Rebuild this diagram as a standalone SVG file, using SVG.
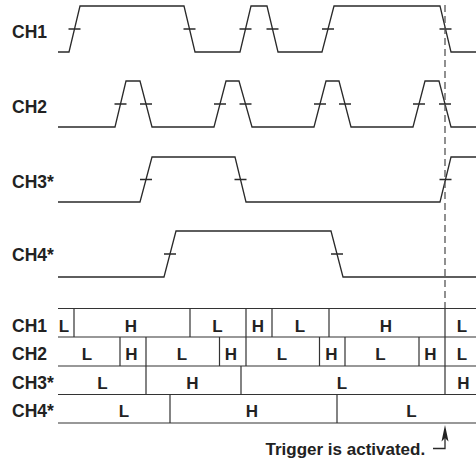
<svg xmlns="http://www.w3.org/2000/svg" width="476" height="459" viewBox="0 0 476 459">
<style>
.w{fill:none;stroke:#2a2a2a;stroke-width:1.3;stroke-linejoin:miter}
.t{stroke:#2a2a2a;stroke-width:1.3;fill:none}
.g{stroke:#333;stroke-width:1.2;fill:none}
.lbl{font-family:"Liberation Sans",Arial,Helvetica,sans-serif;font-weight:bold;font-size:17.5px;fill:#222}
.c{font-family:"Liberation Sans",Arial,Helvetica,sans-serif;font-weight:bold;font-size:17px;fill:#222;text-anchor:middle}
.tr{font-family:"Liberation Sans",Arial,Helvetica,sans-serif;font-weight:bold;font-size:17px;fill:#222}
</style>
<rect width="476" height="459" fill="#fff"/>
<g id="ch1-wave">
<text class="lbl" x="12" y="37.5">CH1</text>
<polyline class="w" points="58,52 69,52 80,6 184,6 195,52 240,52 251,6 267,6 278,52 322,52 334,6 440,6 451,52 476,52"/>
<path class="t" d="M68.5,29h12M183.5,29h12M239.5,29h12M266.5,29h12M322,29h12M439.5,29h12"/>
</g>
<g id="ch2-wave">
<text class="lbl" x="12" y="112.5">CH2</text>
<polyline class="w" points="58,127 115,127 126,81 140,81 152,127 214,127 226,81 239,81 252,127 314,127 326,81 339,81 351,127 413,127 425,81 439,81 451,127 476,127"/>
<path class="t" d="M114.5,104h12M140,104h12M214,104h12M239.5,104h12M314,104h12M339,104h12M413,104h12M439,104h12"/>
</g>
<g id="ch3-wave">
<text class="lbl" x="12" y="187.5">CH3*</text>
<polyline class="w" points="58,202 140,202 152,157 235,157 246,202 440,202 451,157 476,157"/>
<path class="t" d="M140,179.5h12M234.5,179.5h12M439.5,179.5h12"/>
</g>
<g id="ch4-wave">
<text class="lbl" x="12" y="261">CH4*</text>
<polyline class="w" points="58,277 164,277 176,231 331,231 343,277 476,277"/>
<path class="t" d="M164,254h12M331,254h12"/>
</g>
<g id="trigger-line">
<line x1="445" y1="5" x2="445" y2="308" stroke="#555" stroke-width="1.3" stroke-dasharray="7,4"/>
</g>
<g id="table">
<path class="g" d="M58,308.5H476M58,337H476M58,366H476M58,394.5H476M58,423H476"/>
<path class="g" d="M74,308.5V337M190,308.5V337M246,308.5V337M272,308.5V337M329,308.5V337M445,308.5V337"/>
<path class="g" d="M120,337V366M146,337V366M219.5,337V366M246,337V366M319.5,337V366M345,337V366M419,337V366M445,337V366"/>
<path class="g" d="M146,366V394.5M241,366V394.5M445,366V394.5"/>
<path class="g" d="M170,394.5V423M337,394.5V423"/>
<text class="lbl" x="12" y="331.5">CH1</text>
<text class="lbl" x="12" y="360">CH2</text>
<text class="lbl" x="12" y="388.5">CH3*</text>
<text class="lbl" x="12" y="417">CH4*</text>
<g>
<text class="c" x="64" y="331.5">L</text>
<text class="c" x="131" y="331.5">H</text>
<text class="c" x="217.5" y="331.5">L</text>
<text class="c" x="258" y="331.5">H</text>
<text class="c" x="300" y="331.5">L</text>
<text class="c" x="386" y="331.5">H</text>
<text class="c" x="462" y="331.5">L</text>
<text class="c" x="87" y="360">L</text>
<text class="c" x="131.5" y="360">H</text>
<text class="c" x="182" y="360">L</text>
<text class="c" x="231" y="360">H</text>
<text class="c" x="282" y="360">L</text>
<text class="c" x="331.5" y="360">H</text>
<text class="c" x="380.5" y="360">L</text>
<text class="c" x="430.5" y="360">H</text>
<text class="c" x="462" y="360">L</text>
<text class="c" x="102.5" y="388.5">L</text>
<text class="c" x="192.5" y="388.5">H</text>
<text class="c" x="342" y="388.5">L</text>
<text class="c" x="463.5" y="388.5">H</text>
<text class="c" x="124" y="417">L</text>
<text class="c" x="252" y="417">H</text>
<text class="c" x="411.5" y="417">L</text>
</g>
</g>
<g id="connectors">
<polyline class="t" points="433,448.5 445,448.5 445,434"/>
<polygon points="445,425 448.5,441.5 445,438 441.5,441.5" fill="#222"/>
</g>
<g id="trigger-label">
<text class="tr" x="265.5" y="455">Trigger is activated.</text>
</g>
</svg>
